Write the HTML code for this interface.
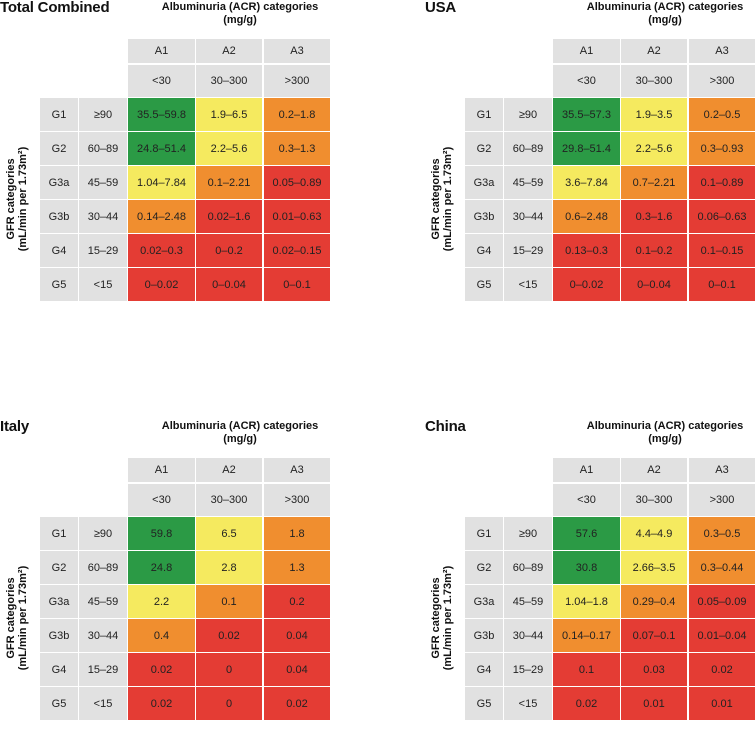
<!DOCTYPE html>
<html><head><meta charset="utf-8"><style>
body{margin:0;width:755px;height:720px;background:#fff;overflow:hidden;position:relative;font-family:"Liberation Sans",Arial,sans-serif;color:#222}
.p{position:absolute;width:380px;height:310px}
.t{position:absolute;font-weight:bold;font-size:15px;color:#111;white-space:nowrap;letter-spacing:-0.2px}
.h{position:absolute;font-weight:bold;font-size:11px;text-align:center;line-height:13px;color:#111;width:220px}
.y{position:absolute;font-weight:bold;font-size:11px;text-align:center;line-height:12px;color:#111;width:200px;transform:rotate(-90deg);white-space:nowrap}
.c{position:absolute;display:flex;align-items:center;justify-content:center;font-size:11px;color:#222}
</style></head><body>
<script>
const panelNames=["Total Combined","USA","Italy","China"];
const rowLabels=["G1","G2","G3a","G3b","G4","G5"];
const rowRanges=["≥90","60–89","45–59","30–44","15–29","<15"];
const colLabels=["A1","A2","A3"];
const colRanges=["<30","30–300",">300"];
const riskLevels=[["g","y","o"],["g","y","o"],["y","o","r"],["o","r","r"],["r","r","r"],["r","r","r"]];
const valsTotal=[["35.5–59.8","1.9–6.5","0.2–1.8"],["24.8–51.4","2.2–5.6","0.3–1.3"],["1.04–7.84","0.1–2.21","0.05–0.89"],["0.14–2.48","0.02–1.6","0.01–0.63"],["0.02–0.3","0–0.2","0.02–0.15"],["0–0.02","0–0.04","0–0.1"]];
const valsUSA=[["35.5–57.3","1.9–3.5","0.2–0.5"],["29.8–51.4","2.2–5.6","0.3–0.93"],["3.6–7.84","0.7–2.21","0.1–0.89"],["0.6–2.48","0.3–1.6","0.06–0.63"],["0.13–0.3","0.1–0.2","0.1–0.15"],["0–0.02","0–0.04","0–0.1"]];
const valsItaly=[["59.8","6.5","1.8"],["24.8","2.8","1.3"],["2.2","0.1","0.2"],["0.4","0.02","0.04"],["0.02","0","0.04"],["0.02","0","0.02"]];
const valsChina=[["57.6","4.4–4.9","0.3–0.5"],["30.8","2.66–3.5","0.3–0.44"],["1.04–1.8","0.29–0.4","0.05–0.09"],["0.14–0.17","0.07–0.1","0.01–0.04"],["0.1","0.03","0.02"],["0.02","0.01","0.01"]];
const allVals=[valsTotal,valsUSA,valsItaly,valsChina];
const colors={g:"#2b9a45",y:"#f5ea5f",o:"#f08e2f",r:"#e43c34"};
const gray="#e1e1e1";
const offs=[[0,0],[425,0],[0,419],[425,419]];
const colX=[128,196,264],colW=[67,66,66];
const rowY=[98,132,166,200,234,268],rowH=33;
function cell(p,x,y,w,h,txt,bg,name){
  const d=document.createElement('div');d.className='c';
  d.style.cssText=`left:${x}px;top:${y}px;width:${w}px;height:${h}px;background:${bg}`;
  d.textContent=txt;
  
  
  p.appendChild(d);
}
panelNames.forEach((nm,pi)=>{
  const p=document.createElement('div');p.className='p';
  p.style.left=offs[pi][0]+'px';p.style.top=offs[pi][1]+'px';
  
  
  document.body.appendChild(p);
  const t=document.createElement('div');t.className='t';t.style.left='0px';t.style.top='-1px';t.textContent=nm;
  
  
  p.appendChild(t);
  const h=document.createElement('div');h.className='h';h.style.left='130px';h.style.top='1px';
  h.innerHTML='Albuminuria (ACR) categories<br>(mg/g)';
  
  
  p.appendChild(h);
  const y=document.createElement('div');y.className='y';y.style.left='-83px';y.style.top='187px';
  y.innerHTML='GFR categories<br>(mL/min per 1.73m²)';
  
  
  p.appendChild(y);
  colLabels.forEach((c,ci)=>{
    cell(p,colX[ci],39,colW[ci],24,c,gray,'col-label-'+c.toLowerCase());
    cell(p,colX[ci],65,colW[ci],32,colRanges[ci],gray,'col-range-'+c.toLowerCase());
  });
  rowLabels.forEach((r,ri)=>{
    cell(p,40,rowY[ri],38,rowH,r,gray,'row-label-'+r.toLowerCase());
    cell(p,79,rowY[ri],48,rowH,rowRanges[ri],gray,'row-range-'+r.toLowerCase());
    colLabels.forEach((c,ci)=>{
      cell(p,colX[ci],rowY[ri],colW[ci],rowH,allVals[pi][ri][ci],colors[riskLevels[ri][ci]],'cell-'+r.toLowerCase()+'-'+c.toLowerCase());
    });
  });
});
</script>
</body></html>
